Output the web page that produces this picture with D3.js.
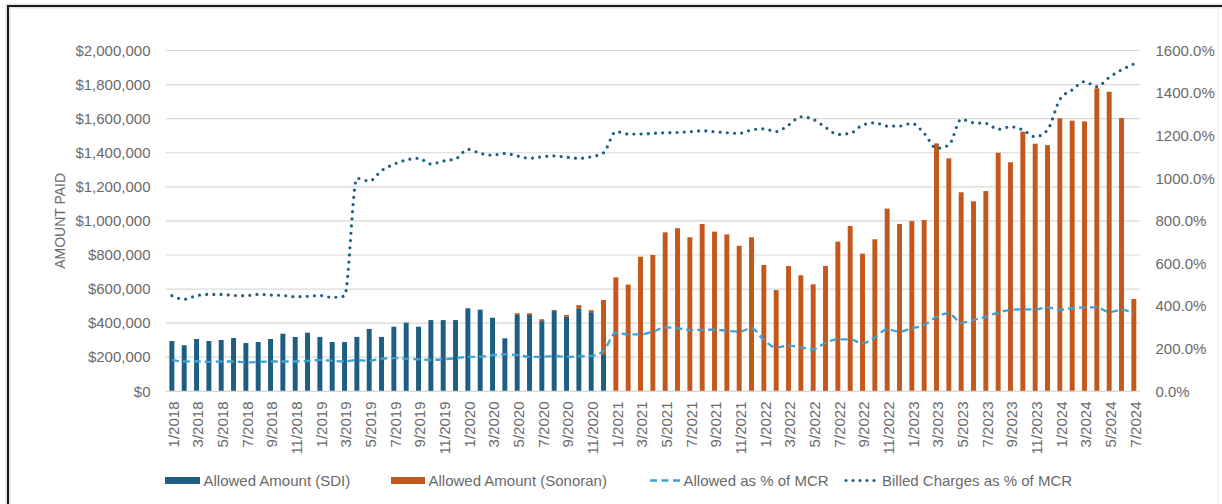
<!DOCTYPE html>
<html>
<head>
<meta charset="utf-8">
<script src="https://cdn.jsdelivr.net/npm/d3@7"></script>
<style>
  html, body { margin: 0; padding: 0; background: #fff; }
  svg { display: block; }
  text { font-family: "Liberation Sans", Arial, sans-serif; }
</style>
</head>
<body>
<svg id="chart" width="1222" height="504"></svg>
<script>
// ---------------- DATA ----------------
const months = [
  "1/2018","2/2018","3/2018","4/2018","5/2018","6/2018","7/2018","8/2018","9/2018","10/2018","11/2018","12/2018",
  "1/2019","2/2019","3/2019","4/2019","5/2019","6/2019","7/2019","8/2019","9/2019","10/2019","11/2019","12/2019",
  "1/2020","2/2020","3/2020","4/2020","5/2020","6/2020","7/2020","8/2020","9/2020","10/2020","11/2020","12/2020",
  "1/2021","2/2021","3/2021","4/2021","5/2021","6/2021","7/2021","8/2021","9/2021","10/2021","11/2021","12/2021",
  "1/2022","2/2022","3/2022","4/2022","5/2022","6/2022","7/2022","8/2022","9/2022","10/2022","11/2022","12/2022",
  "1/2023","2/2023","3/2023","4/2023","5/2023","6/2023","7/2023","8/2023","9/2023","10/2023","11/2023","12/2023",
  "1/2024","2/2024","3/2024","4/2024","5/2024","6/2024","7/2024"
];

// Allowed Amount (SDI), $ — Jan 2018 .. Dec 2020, then none
const allowedSDI = [
  295000,270000,307000,295000,301000,313000,283000,289000,307000,338000,319000,344000,
  319000,289000,289000,319000,366000,319000,379000,403000,379000,418000,418000,418000,
  487000,479000,432000,311000,448000,448000,412000,471000,438000,487000,464000,213000,
  0,0,0,0,0,0,0,0,0,0,0,0,
  0,0,0,0,0,0,0,0,0,0,0,0,
  0,0,0,0,0,0,0,0,0,0,0,0,
  0,0,0,0,0,0,0
];

// Allowed Amount (Sonoran), $
const allowedSonoran = [
  0,0,0,0,0,0,0,0,0,0,0,0,
  0,0,0,0,0,0,0,0,0,0,0,0,
  0,0,0,0,10000,10000,11000,6000,10000,19000,12000,323000,
  669000,626000,790000,800000,933000,957000,904000,982000,937000,921000,854000,904000,
  741000,594000,735000,681000,628000,735000,878000,970000,808000,892000,1072000,982000,
  999000,1005000,1455000,1367000,1168000,1115000,1175000,1400000,1344000,1524000,1453000,1445000,
  1602000,1588000,1584000,1778000,1758000,1604000,542000
];

// Allowed as % of MCR
const allowedPctMCR = [
  147,140,141,138,140,140,136,138,140,140,140,143,
  147,143,140,147,143,153,156,153,150,147,150,155,
  162,162,170,173,170,162,162,166,162,164,166,190,
  275,267,267,280,300,296,288,288,290,284,280,296,
  241,206,214,206,197,228,244,244,225,253,291,280,
  296,311,350,366,322,335,350,369,382,385,385,394,
  382,390,394,394,372,382,369
];

// Billed Charges as % of MCR
const billedPctMCR = [
  449,432,449,455,455,450,449,455,452,450,444,446,
  450,441,447,1000,987,1036,1066,1086,1094,1067,1081,1091,
  1136,1117,1109,1117,1105,1094,1101,1105,1099,1094,1101,1120,
  1219,1208,1208,1211,1214,1215,1219,1223,1219,1214,1211,1227,
  1232,1219,1250,1289,1277,1239,1206,1211,1250,1261,1245,1245,
  1258,1211,1141,1156,1277,1261,1258,1230,1242,1227,1195,1227,
  1370,1415,1454,1430,1474,1509,1537
];

const leftTicks = [0,200000,400000,600000,800000,1000000,1200000,1400000,1600000,1800000,2000000];
const rightTicks = [0,200,400,600,800,1000,1200,1400,1600];
const seriesNames = ["Allowed Amount (SDI)","Allowed Amount (Sonoran)","Allowed as % of MCR","Billed Charges as % of MCR"];
const yAxisTitle = "AMOUNT PAID";

// ---------------- STYLE ----------------
const C_SDI = "#1D5E82";
const C_SON = "#C4581C";
const C_DASH = "#3FA2D4";
const C_DOT = "#1C5F82";
const C_GRID = "#D9D9D9";
const C_TEXT = "#6a6a6a";

const svg = d3.select("#chart");
const plot = { left: 165.7, right: 1140, top: 50.5, bottom: 391.3 };

const x = d3.scaleBand().domain(months).range([plot.left, plot.right]).paddingInner(0.6).paddingOuter(0.3);
const yL = d3.scaleLinear().domain([0, 2000000]).range([plot.bottom, plot.top]);
const yR = d3.scaleLinear().domain([0, 1600]).range([plot.bottom, plot.top]);
const cx = m => x(m) + x.bandwidth() / 2;

// frame
svg.append("path")
  .attr("d", "M8,504 V6 H1222")
  .attr("fill", "none").attr("stroke", "#ccc").attr("stroke-width", 5).attr("opacity", 0.5);
svg.append("path")
  .attr("d", "M8,504 V6 H1222")
  .attr("fill", "none").attr("stroke", "#1a1a1a").attr("stroke-width", 2);
svg.append("line").attr("x1", 1218).attr("x2", 1218).attr("y1", 7).attr("y2", 504)
  .attr("stroke", "#eee").attr("stroke-width", 1);

// gridlines
svg.append("g").selectAll("line").data(leftTicks).join("line")
  .attr("x1", plot.left).attr("x2", plot.right)
  .attr("y1", d => yL(d)).attr("y2", d => yL(d))
  .attr("stroke", C_GRID).attr("stroke-width", 1.2);

// left axis labels
const fmtMoney = d3.format("$,.0f");
svg.append("g").selectAll("text").data(leftTicks).join("text")
  .attr("x", 150.5).attr("y", d => yL(d)).attr("dy", "0.35em")
  .attr("text-anchor", "end").attr("font-size", 15).attr("fill", C_TEXT)
  .text(d => fmtMoney(d));

// right axis labels
svg.append("g").selectAll("text").data(rightTicks).join("text")
  .attr("x", 1155.5).attr("y", d => yR(d)).attr("dy", "0.35em")
  .attr("text-anchor", "start").attr("font-size", 15).attr("fill", C_TEXT)
  .text(d => d.toFixed(1) + "%");

// y axis title
svg.append("text")
  .attr("transform", `translate(65,${(plot.top + plot.bottom) / 2}) rotate(-90)`)
  .attr("text-anchor", "middle").attr("font-size", 14).attr("fill", C_TEXT)
  .text(yAxisTitle);

// stacked bars
const rows = months.map((m, i) => ({ month: m, sdi: allowedSDI[i], son: allowedSonoran[i] }));
const stack = d3.stack().keys(["sdi", "son"])(rows);
const colors = { sdi: C_SDI, son: C_SON };
svg.append("g").selectAll("g").data(stack).join("g")
  .attr("fill", d => colors[d.key])
  .selectAll("rect").data(d => d.filter(p => p[1] > p[0])).join("rect")
  .attr("x", d => x(d.data.month))
  .attr("width", x.bandwidth())
  .attr("y", d => yL(d[1]))
  .attr("height", d => yL(d[0]) - yL(d[1]));

// x axis baseline
svg.append("line").attr("x1", plot.left).attr("x2", plot.right)
  .attr("y1", plot.bottom).attr("y2", plot.bottom)
  .attr("stroke", C_GRID).attr("stroke-width", 1.2);

// lines
const line = d3.line().x((d, i) => cx(months[i])).y(d => yR(d)).curve(d3.curveMonotoneX);
svg.append("path").datum(allowedPctMCR)
  .attr("d", line).attr("fill", "none")
  .attr("stroke", C_DASH).attr("stroke-width", 2.3)
  .attr("stroke-dasharray", "7,4");
svg.append("path").datum(billedPctMCR)
  .attr("d", line).attr("fill", "none")
  .attr("stroke", C_DOT).attr("stroke-width", 3.2)
  .attr("stroke-linecap", "round")
  .attr("stroke-dasharray", "0,7.2");

// x labels (every other month)
svg.append("g").selectAll("text").data(months.filter((m, i) => i % 2 === 0)).join("text")
  .attr("transform", d => `translate(${cx(d) + 1.5},401.5) rotate(-90)`)
  .attr("text-anchor", "end").attr("dy", "0.35em")
  .attr("font-size", 15).attr("fill", C_TEXT)
  .text(d => d);

// legend
const lg = svg.append("g").attr("font-size", 15).attr("fill", C_TEXT);
const ly = 480.5;
lg.append("rect").attr("x", 165).attr("y", ly - 3.5).attr("width", 35).attr("height", 7).attr("fill", C_SDI);
lg.append("text").attr("x", 203.5).attr("y", ly).attr("dy", "0.35em").text(seriesNames[0]);
lg.append("rect").attr("x", 391).attr("y", ly - 3.5).attr("width", 34).attr("height", 7).attr("fill", C_SON);
lg.append("text").attr("x", 428.5).attr("y", ly).attr("dy", "0.35em").text(seriesNames[1]);
lg.append("line").attr("x1", 650).attr("x2", 680).attr("y1", ly).attr("y2", ly)
  .attr("stroke", C_DASH).attr("stroke-width", 2.3).attr("stroke-dasharray", "7,4.5");
lg.append("text").attr("x", 683.5).attr("y", ly).attr("dy", "0.35em").text(seriesNames[2]);
lg.append("line").attr("x1", 846).attr("x2", 876).attr("y1", ly).attr("y2", ly)
  .attr("stroke", C_DOT).attr("stroke-width", 3.2).attr("stroke-linecap", "round")
  .attr("stroke-dasharray", "0,7");
lg.append("text").attr("x", 882).attr("y", ly).attr("dy", "0.35em").text(seriesNames[3]);
</script>
</body>
</html>
